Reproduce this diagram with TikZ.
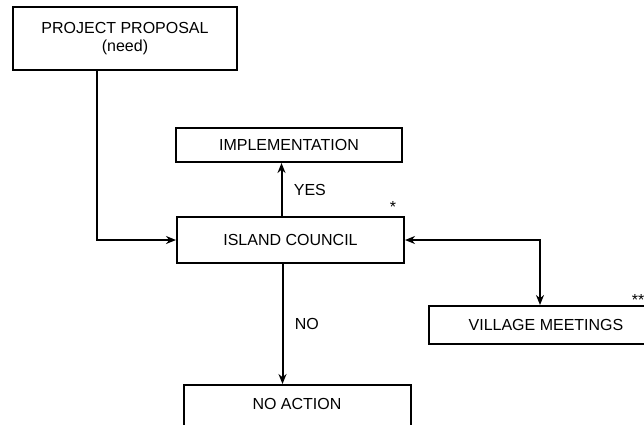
\documentclass[tikz,border=0pt]{standalone}
\usepackage{fontspec}
\setmainfont{Liberation Sans}
\usetikzlibrary{arrows.meta,positioning,calc}
\tikzset{x=1pt, y=-1pt, % Coordinates in pixels of the original page
        every node/.style={ % Sets the font for all the texts
            font=\fontsize{16}{18}\selectfont},
        box/.style={ % Sets the properties for each box
            draw,
            line width=2pt,
            rectangle,
            align=center,
            inner sep=0pt},
        link/.style={ % Sets the properties for each connector
            draw,
            ->,>={Stealth[length=10pt,width=8pt]}, % Directed connectors with bold arrowheads
            line width=2pt}
        }
\begin{document}
\begin{tikzpicture}
    \clip (0,0) rectangle (644,424);
    \node[box, minimum width=224, minimum height=63] (proposal) at (125,38.5) {PROJECT PROPOSAL\\(need)};
    \node[box, minimum width=226, minimum height=34] (impl) at (289,145) {IMPLEMENTATION};
    \node[box, minimum width=227, minimum height=46] (council) at (290.5,240) {ISLAND COUNCIL};
    \node[box, minimum width=234, minimum height=38] (village) at (546,325) {VILLAGE MEETINGS};
    \node[box, minimum width=227, minimum height=50, text depth=12pt] (noaction) at (297,410) {NO ACTION};
    \node (star) at (393,207) {*};
    \node (stars) at (638,300) {**};

    \draw[link] ([xshift=-28]proposal.south) |- (council.west);
    \draw[link] ([xshift=-9]council.north) -- ([xshift=-9]council.north |- impl.south)
        node[midway, right=8pt] {YES};
    \draw[link] ([xshift=-8]council.south) -- ([xshift=-8]council.south |- noaction.north)
        node[midway, right=8pt] {NO};
    \draw[link, <->] (council.east) -| ([xshift=-6]village.north);
\end{tikzpicture}
\end{document}
